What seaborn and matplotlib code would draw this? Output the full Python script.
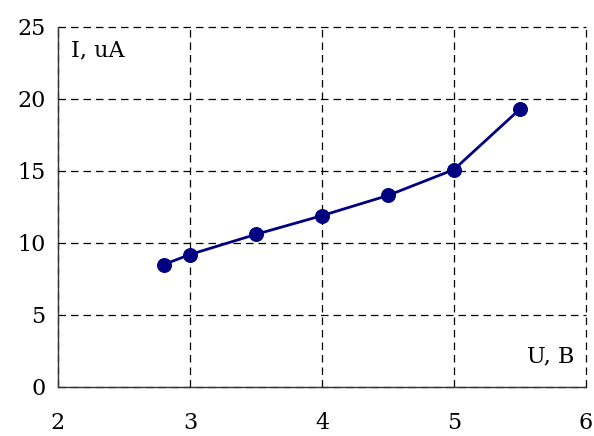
import matplotlib
matplotlib.use("Agg")
import matplotlib.pyplot as plt
import seaborn as sns
import pandas as pd

# measured points
voltage = [2.8, 3.0, 3.5, 4.0, 4.5, 5.0, 5.5]
current = [8.5, 9.2, 10.6, 11.9, 13.3, 15.1, 19.3]
x_ticks = [2, 3, 4, 5, 6]
y_ticks = [0, 5, 10, 15, 20, 25]

df = pd.DataFrame({"U": voltage, "I": current})

sns.set_style("white")
plt.rcParams["font.family"] = ["DejaVu Serif"]
plt.rcParams["text.color"] = "black"
plt.rcParams["xtick.color"] = "black"
plt.rcParams["ytick.color"] = "black"

fig = plt.figure(figsize=(5.94, 4.36), dpi=100)
ax = fig.add_axes([0.0976, 0.1124, 0.8889, 0.8257])

sns.lineplot(data=df, x="U", y="I", ax=ax, color="#000080", linewidth=2.0,
             marker="o", markersize=10, markeredgecolor="#000080")

ax.set_xlim(2, 6)
ax.set_ylim(0, 25)
ax.set_xticks(x_ticks)
ax.set_yticks(y_ticks)
ax.grid(True, color="black", linestyle=(0, (6, 4)), linewidth=0.9)
ax.set_axisbelow(True)
for gl in ax.get_xgridlines() + ax.get_ygridlines():
    gl.set_clip_on(False)

for s in ["top", "right"]:
    ax.spines[s].set_visible(False)
for s in ["left", "bottom"]:
    ax.spines[s].set_color("#333333")
    ax.spines[s].set_linewidth(1.0)

ax.tick_params(axis="both", direction="inout", length=8, width=1.0,
               color="#333333", labelcolor="black", labelsize=16)
ax.tick_params(axis="x", pad=14)
ax.tick_params(axis="y", pad=5)
ax.set_xlabel("")
ax.set_ylabel("")

ax.text(2.1, 23.4, "I, uA", fontsize=16, va="center", ha="left")
ax.text(5.91, 2.1, "U, B", fontsize=16, va="center", ha="right")

fig.savefig("out.png", dpi=100)
